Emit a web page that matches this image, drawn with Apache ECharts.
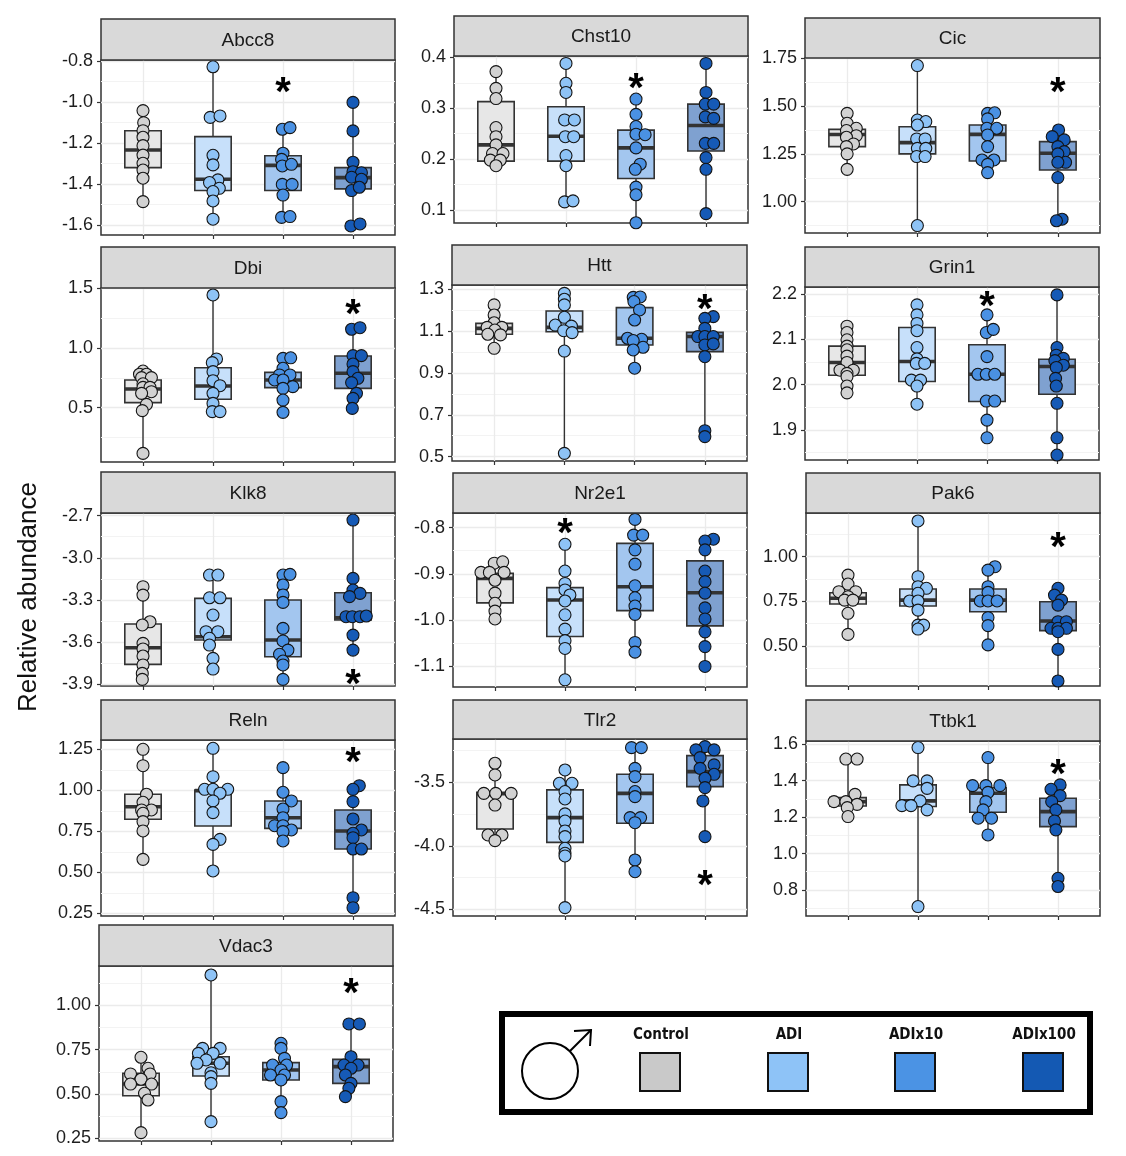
<!DOCTYPE html>
<html>
<head>
<meta charset="utf-8">
<script src="https://cdn.jsdelivr.net/npm/echarts@6/dist/echarts.min.js"></script>
<style>
html, body { margin: 0; padding: 0; background: #fff; }
#main { width: 1126px; height: 1156px; }
</style>
</head>
<body>
<div id="main"></div>
<script>
// groups and genes
var groups = ['Control', 'ADI', 'ADIx10', 'ADIx100'];
var genes = ['Abcc8', 'Chst10', 'Cic', 'Dbi', 'Htt', 'Grin1', 'Klk8', 'Nr2e1', 'Pak6', 'Reln', 'Tlr2', 'Ttbk1', 'Vdac3'];

// box stats per group: [min, q1, median, q3, max]
var abcc8Box = [[-1.486, -1.320, -1.234, -1.140, -1.042], [-1.572, -1.432, -1.377, -1.169, -0.828], [-1.563, -1.432, -1.309, -1.262, -1.125], [-1.605, -1.424, -1.369, -1.320, -1.002]];
var chst10Box = [[0.187, 0.196, 0.228, 0.313, 0.372], [0.116, 0.196, 0.245, 0.303, 0.388], [0.075, 0.162, 0.222, 0.257, 0.318], [0.093, 0.216, 0.266, 0.308, 0.388]];
var cicBox = [[1.169, 1.288, 1.351, 1.378, 1.462], [0.875, 1.250, 1.309, 1.392, 1.712], [1.152, 1.213, 1.352, 1.401, 1.465], [0.900, 1.166, 1.253, 1.314, 1.375]];
var dbiBox = [[0.117, 0.542, 0.657, 0.732, 0.807], [0.467, 0.570, 0.682, 0.835, 1.444], [0.461, 0.668, 0.732, 0.796, 0.918], [0.494, 0.662, 0.788, 0.933, 1.170]];
var httBox = [[1.017, 1.084, 1.112, 1.136, 1.224], [0.516, 1.096, 1.117, 1.195, 1.279], [0.922, 1.033, 1.065, 1.211, 1.262], [0.596, 1.001, 1.073, 1.093, 1.168]];
var grin1Box = [[1.982, 2.021, 2.049, 2.085, 2.129], [1.957, 2.007, 2.051, 2.126, 2.176], [1.883, 1.963, 2.023, 2.088, 2.154], [1.845, 1.979, 2.040, 2.056, 2.198]];
var klk8Box = [[-3.867, -3.760, -3.641, -3.472, -3.206], [-3.793, -3.586, -3.563, -3.289, -3.123], [-3.867, -3.705, -3.586, -3.301, -3.118], [-3.658, -3.444, -3.427, -3.249, -2.731]];
var nr2e1Box = [[-0.998, -0.963, -0.910, -0.899, -0.874], [-1.130, -1.036, -0.957, -0.930, -0.836], [-1.070, -0.980, -0.928, -0.834, -0.782], [-1.101, -1.013, -0.941, -0.872, -0.825]];
var pak6Box = [[0.565, 0.735, 0.767, 0.798, 0.897], [0.595, 0.724, 0.757, 0.819, 1.200], [0.506, 0.692, 0.757, 0.819, 0.944], [0.304, 0.586, 0.640, 0.748, 0.823]];
var relnBox = [[0.579, 0.823, 0.900, 0.976, 1.250], [0.508, 0.782, 0.998, 1.002, 1.256], [0.691, 0.768, 0.833, 0.935, 1.138], [0.284, 0.642, 0.752, 0.880, 1.028]];
var tlr2Box = [[-3.959, -3.868, -3.590, -3.579, -3.350], [-4.487, -3.973, -3.778, -3.560, -3.403], [-4.204, -3.823, -3.587, -3.437, -3.227], [-3.928, -3.534, -3.416, -3.290, -3.219]];
var ttbk1Box = [[1.203, 1.261, 1.285, 1.307, 1.519], [0.709, 1.258, 1.289, 1.377, 1.582], [1.102, 1.227, 1.331, 1.362, 1.527], [0.819, 1.148, 1.230, 1.304, 1.377]];
var vdac3Box = [[0.282, 0.490, 0.556, 0.617, 0.707], [0.344, 0.601, 0.673, 0.710, 1.171], [0.395, 0.579, 0.635, 0.677, 0.786], [0.485, 0.560, 0.654, 0.695, 0.895]];

// individual animals per group: [horizontal offset from group centre, value]
var abcc8Pts = [
  [[0, -1.042], [0.01, -1.101], [0, -1.140], [0, -1.172], [0, -1.213], [0, -1.259], [0, -1.299], [0, -1.332], [0, -1.372], [0, -1.486]],
  [[0, -0.828], [-0.04, -1.075], [0.10, -1.068], [0, -1.260], [0, -1.307], [0.07, -1.380], [-0.05, -1.393], [0.09, -1.421], [0, -1.437], [0, -1.483], [0, -1.572]],
  [[-0.01, -1.133], [0.10, -1.125], [0, -1.250], [-0.02, -1.280], [-0.01, -1.312], [0.12, -1.304], [-0.01, -1.402], [0.13, -1.402], [0, -1.454], [-0.02, -1.563], [0.10, -1.559]],
  [[0, -1.002], [0, -1.141], [0, -1.294], [0, -1.340], [0.12, -1.345], [-0.02, -1.367], [0.12, -1.377], [-0.02, -1.432], [0.09, -1.416], [-0.03, -1.605], [0.10, -1.595]]
];
var chst10Pts = [
  [[0, 0.372], [0, 0.339], [0, 0.319], [0, 0.262], [0, 0.244], [0, 0.228], [-0.05, 0.211], [0.10, 0.211], [-0.08, 0.198], [0.06, 0.198], [0, 0.187]],
  [[0, 0.388], [0, 0.349], [0, 0.331], [-0.02, 0.277], [0.12, 0.277], [-0.01, 0.244], [0.11, 0.244], [0, 0.207], [0, 0.187], [-0.02, 0.116], [0.10, 0.118]],
  [[0, 0.318], [0, 0.288], [0, 0.264], [0, 0.249], [0.13, 0.248], [0, 0.222], [0.06, 0.190], [-0.01, 0.180], [0, 0.145], [0, 0.130], [0, 0.075]],
  [[0, 0.388], [0, 0.331], [-0.01, 0.308], [0.11, 0.308], [-0.01, 0.283], [0.11, 0.280], [-0.01, 0.231], [0.11, 0.231], [0, 0.203], [0, 0.180], [0, 0.093]]
];
var cicPts = [
  [[0, 1.462], [0, 1.410], [0.13, 1.384], [-0.01, 1.372], [0.13, 1.345], [-0.01, 1.337], [0.09, 1.302], [-0.01, 1.288], [0, 1.250], [0, 1.169]],
  [[0, 1.712], [0, 1.427], [0.12, 1.419], [0, 1.401], [-0.01, 1.328], [0.11, 1.328], [0, 1.279], [0.12, 1.279], [-0.01, 1.236], [0.11, 1.236], [0, 0.875]],
  [[0, 1.462], [0.10, 1.465], [0, 1.433], [-0.01, 1.384], [0.13, 1.384], [0, 1.349], [0, 1.288], [-0.08, 1.218], [0.09, 1.218], [0, 1.195], [0, 1.152]],
  [[0.01, 1.375], [-0.08, 1.340], [0.09, 1.323], [0, 1.288], [0.09, 1.262], [0, 1.250], [0.11, 1.206], [0, 1.206], [0, 1.126], [0.06, 0.908], [-0.02, 0.900]]
];
var dbiPts = [
  [[0, 0.807], [-0.05, 0.780], [0.05, 0.780], [-0.02, 0.752], [0.12, 0.752], [0, 0.700], [0, 0.670], [0.10, 0.670], [0.12, 0.634], [-0.02, 0.620], [0.05, 0.528], [-0.01, 0.475], [0, 0.117]],
  [[0, 1.444], [0.05, 0.908], [-0.01, 0.877], [0, 0.802], [0, 0.726], [0.10, 0.684], [0, 0.620], [0, 0.536], [-0.01, 0.467], [0.10, 0.467]],
  [[0, 0.913], [0.11, 0.918], [0, 0.830], [-0.05, 0.774], [0.10, 0.774], [-0.12, 0.732], [0, 0.732], [0.14, 0.676], [0, 0.662], [0, 0.564], [0, 0.461]],
  [[-0.02, 1.157], [0.10, 1.170], [0, 0.936], [0.12, 0.936], [0, 0.866], [0, 0.802], [0.07, 0.746], [-0.02, 0.710], [0.05, 0.620], [0, 0.578], [-0.01, 0.494]]
];
var httPts = [
  [[0, 1.224], [0, 1.176], [0, 1.139], [-0.10, 1.117], [0.11, 1.117], [0.01, 1.104], [0.09, 1.081], [-0.09, 1.084], [0, 1.017]],
  [[0, 1.279], [0, 1.251], [0, 1.224], [0, 1.165], [-0.13, 1.128], [0.10, 1.123], [-0.01, 1.101], [0.11, 1.092], [0, 1.004], [0, 0.516]],
  [[-0.02, 1.260], [0.08, 1.262], [-0.01, 1.240], [0.07, 1.200], [0, 1.152], [-0.10, 1.065], [0.10, 1.060], [-0.02, 1.054], [0.12, 1.022], [-0.02, 1.009], [0, 0.922]],
  [[0.12, 1.168], [0, 1.160], [0, 1.112], [-0.10, 1.073], [0, 1.073], [0.12, 1.073], [0, 1.033], [0.12, 1.038], [0, 0.977], [0, 0.624], [0, 0.596]]
];
var grin1Pts = [
  [[0, 2.129], [0, 2.115], [0, 2.099], [0, 2.085], [0, 2.077], [0, 2.063], [0, 2.049], [-0.10, 2.032], [0.09, 2.032], [0, 2.025], [0, 2.018], [0, 1.997], [0, 1.982]],
  [[0, 2.176], [0, 2.154], [0, 2.135], [0, 2.119], [0, 2.082], [0, 2.057], [-0.01, 2.047], [0.11, 2.047], [-0.08, 2.010], [0.05, 2.010], [0, 1.997], [0, 1.957]],
  [[0, 2.154], [-0.01, 2.115], [0.09, 2.122], [0, 2.062], [-0.13, 2.023], [-0.01, 2.023], [0.11, 2.023], [-0.01, 1.964], [0.11, 1.964], [0, 1.922], [0, 1.883]],
  [[0, 2.198], [0, 2.082], [-0.01, 2.065], [0.09, 2.058], [-0.03, 2.053], [0.09, 2.043], [-0.01, 2.038], [-0.02, 2.014], [-0.01, 1.997], [0, 1.959], [0, 1.883], [0, 1.845]]
];
var klk8Pts = [
  [[0, -3.206], [0, -3.266], [0.10, -3.456], [-0.01, -3.479], [0, -3.610], [0, -3.650], [0, -3.700], [0, -3.764], [-0.01, -3.824], [-0.01, -3.867]],
  [[-0.05, -3.123], [0.07, -3.123], [-0.05, -3.285], [0.10, -3.285], [0, -3.408], [-0.10, -3.527], [0.07, -3.527], [-0.05, -3.574], [-0.05, -3.622], [0, -3.717], [0, -3.793]],
  [[0, -3.123], [0.10, -3.118], [0, -3.194], [0, -3.265], [0, -3.318], [0, -3.503], [0, -3.593], [0.07, -3.658], [-0.05, -3.688], [0, -3.736], [0, -3.764], [0, -3.867]],
  [[0, -2.731], [0, -3.147], [0, -3.230], [0.10, -3.254], [-0.05, -3.277], [-0.10, -3.420], [-0.01, -3.420], [0.10, -3.420], [0.19, -3.415], [0, -3.551], [0, -3.658]]
];
var nr2e1Pts = [
  [[-0.01, -0.877], [0.11, -0.874], [-0.20, -0.897], [-0.08, -0.897], [0.13, -0.897], [0, -0.914], [0, -0.942], [0, -0.964], [0, -0.981], [0, -0.998]],
  [[0, -0.836], [0, -0.894], [0, -0.921], [0, -0.935], [0.07, -0.946], [0, -0.959], [0, -0.989], [0, -1.020], [0, -1.045], [0, -1.062], [0, -1.130]],
  [[0, -0.782], [-0.02, -0.816], [0.11, -0.816], [0, -0.848], [0, -0.879], [0, -0.926], [0, -0.952], [0, -0.970], [0, -0.988], [0, -1.049], [0, -1.070]],
  [[0.12, -0.825], [0, -0.829], [0, -0.848], [0, -0.894], [0, -0.917], [0, -0.942], [0, -0.974], [0, -0.998], [0, -1.026], [0, -1.058], [0, -1.101]]
];
var pak6Pts = [
  [[0, 0.897], [0, 0.847], [-0.13, 0.804], [0.11, 0.804], [0, 0.776], [-0.05, 0.757], [0.07, 0.757], [0, 0.683], [0, 0.565]],
  [[0, 1.200], [0, 0.888], [0, 0.832], [0.12, 0.823], [0, 0.795], [-0.12, 0.752], [0, 0.752], [0, 0.701], [0, 0.617], [0.08, 0.617], [0, 0.595]],
  [[0.10, 0.944], [0, 0.925], [0, 0.832], [0, 0.800], [-0.11, 0.752], [0, 0.752], [0.13, 0.752], [0, 0.659], [0, 0.614], [0, 0.506]],
  [[0, 0.823], [-0.05, 0.785], [0.05, 0.757], [0, 0.729], [0, 0.636], [0.12, 0.636], [-0.10, 0.599], [0, 0.599], [0.12, 0.599], [0, 0.580], [0, 0.481], [0, 0.304]]
];
var relnPts = [
  [[0, 1.250], [0, 1.150], [0.05, 0.976], [0, 0.927], [0.12, 0.880], [-0.02, 0.880], [0, 0.860], [0, 0.809], [0, 0.752], [0, 0.579]],
  [[0, 1.256], [0, 1.083], [-0.12, 1.006], [0, 1.006], [0.21, 1.006], [0.10, 0.982], [0, 0.935], [0, 0.864], [0.10, 0.701], [0, 0.670], [0, 0.508]],
  [[0, 1.138], [0, 0.988], [0.12, 0.935], [0, 0.886], [0, 0.833], [-0.12, 0.784], [0, 0.784], [0.12, 0.758], [0, 0.748], [0, 0.691]],
  [[0.09, 1.028], [0, 1.006], [0, 0.931], [0, 0.825], [0.12, 0.758], [0, 0.738], [0, 0.711], [0, 0.642], [0.12, 0.642], [0, 0.345], [0, 0.284]]
];
var tlr2Pts = [
  [[0, -3.350], [0, -3.442], [-0.16, -3.587], [0.01, -3.587], [0.23, -3.587], [0, -3.679], [-0.10, -3.915], [0.10, -3.915], [0, -3.959]],
  [[0, -3.403], [-0.08, -3.508], [0.10, -3.508], [0, -3.573], [0, -3.631], [0, -3.749], [0, -3.805], [0, -3.883], [0, -3.928], [0, -4.020], [0, -4.059], [0, -4.080], [0, -4.487]],
  [[-0.05, -3.227], [0.09, -3.227], [0, -3.390], [0, -3.455], [0, -3.573], [0, -3.613], [-0.07, -3.778], [0.08, -3.778], [0, -3.818], [0, -4.112], [0, -4.204]],
  [[0, -3.219], [-0.13, -3.245], [0.13, -3.245], [-0.07, -3.306], [0.13, -3.363], [-0.07, -3.390], [0.13, -3.437], [0, -3.468], [0, -3.542], [-0.03, -3.647], [0, -3.928]]
];
var ttbk1Pts = [
  [[-0.03, 1.519], [0.13, 1.519], [0.10, 1.325], [-0.20, 1.285], [-0.03, 1.285], [0.13, 1.270], [-0.01, 1.252], [0, 1.203]],
  [[0, 1.582], [-0.07, 1.399], [0.13, 1.399], [0.13, 1.358], [0.03, 1.289], [-0.23, 1.263], [-0.10, 1.263], [0.13, 1.240], [0, 0.709]],
  [[0, 1.527], [-0.22, 1.373], [-0.03, 1.373], [0.17, 1.373], [0, 1.336], [-0.03, 1.285], [-0.07, 1.240], [-0.14, 1.194], [0.05, 1.194], [0, 1.102]],
  [[0.03, 1.377], [-0.10, 1.353], [0.03, 1.318], [-0.09, 1.285], [-0.03, 1.240], [-0.05, 1.179], [-0.03, 1.130], [0, 0.864], [0, 0.819]]
];
var vdac3Pts = [
  [[0, 0.707], [0.10, 0.645], [-0.15, 0.613], [0.13, 0.613], [0, 0.583], [-0.15, 0.556], [0.15, 0.556], [0.05, 0.504], [0.10, 0.466], [0, 0.282]],
  [[0, 1.171], [-0.12, 0.757], [0.13, 0.757], [-0.18, 0.729], [0.03, 0.729], [-0.07, 0.692], [-0.20, 0.673], [0.13, 0.673], [0, 0.620], [0, 0.598], [0, 0.560], [0, 0.344]],
  [[0, 0.786], [0, 0.757], [0.05, 0.701], [-0.12, 0.663], [0.08, 0.663], [0, 0.635], [-0.15, 0.607], [0.05, 0.607], [0, 0.579], [0, 0.457], [0, 0.395]],
  [[-0.03, 0.895], [0.12, 0.895], [0, 0.710], [-0.10, 0.663], [0.10, 0.663], [0, 0.645], [-0.08, 0.607], [0, 0.560], [-0.03, 0.532], [-0.08, 0.485]]
];

// significance marks: group index and height
var starGroup = [2, 2, 3, 3, 3, 2, 3, 1, 3, 3, 3, 3, 3];
var starValue = [-0.915, 0.354, 1.613, 1.349, 1.239, 2.191, -3.842, -0.794, 1.096, 1.221, -4.248, 1.479, 1.115];

// y axes: tick labels, decimals and visible range
var yTicks = [
  [-1.6, -1.4, -1.2, -1.0, -0.8], [0.1, 0.2, 0.3, 0.4], [1.00, 1.25, 1.50, 1.75], [0.5, 1.0, 1.5],
  [0.5, 0.7, 0.9, 1.1, 1.3], [1.9, 2.0, 2.1, 2.2], [-3.9, -3.6, -3.3, -3.0, -2.7], [-1.1, -1.0, -0.9, -0.8],
  [0.50, 0.75, 1.00], [0.25, 0.50, 0.75, 1.00, 1.25], [-4.5, -4.0, -3.5], [0.8, 1.0, 1.2, 1.4, 1.6], [0.25, 0.50, 0.75, 1.00]
];
var yDecimals = [1, 1, 2, 1, 1, 1, 1, 1, 2, 2, 1, 1, 2];
var yMin = [-1.649, 0.0745, 0.836, 0.045, 0.4795, 1.834, -3.914, -1.1456, 0.276, 0.2335, -4.553, 0.657, 0.2348];
var yMax = [-0.795, 0.4026, 1.7516, 1.5025, 1.319, 2.2154, -2.6807, -0.7681, 1.2447, 1.3067, -3.159, 1.618, 1.2217];

var geneBoxes = [abcc8Box, chst10Box, cicBox, dbiBox, httBox, grin1Box, klk8Box, nr2e1Box, pak6Box, relnBox, tlr2Box, ttbk1Box, vdac3Box];
var genePts = [abcc8Pts, chst10Pts, cicPts, dbiPts, httPts, grin1Pts, klk8Pts, nr2e1Pts, pak6Pts, relnPts, tlr2Pts, ttbk1Pts, vdac3Pts];

// panel layout (px)
var panelLeft = [101, 454, 805, 101, 452, 805, 101, 453, 806, 101, 453, 806, 99];
var panelRight = [395, 748, 1100, 395, 747, 1099, 395, 747, 1100, 395, 747, 1100, 393];
var panelTop = [60, 56, 58, 288, 285, 287, 513, 513, 513, 740, 739, 741, 966];
var panelBottom = [235, 223, 233, 462, 461, 460, 686, 687, 686, 916, 916, 916, 1141];
var stripTop = [19, 16, 18, 247, 245, 247, 472, 473, 473, 700, 700, 700, 925];

var pointColors = ['#D2D2D2', '#8EC3F6', '#4A91E3', '#165AB6'];
var boxFill = ['#E7E7E7', '#C7E0FA', '#A3C6EF', '#7FA1D0'];
var legendFill = ['#C9C9C9', '#8EC3F7', '#4B93E4', '#1459B3'];
var legendCentre = [660, 788, 915, 1043];
var boxWidth = 0.52;
var font = "'Liberation Sans', Arial, sans-serif";
var starSize = 40;

function minorTicks(t, lo, hi) {
  var step = t[1] - t[0], out = [];
  for (var v = t[0] - step / 2; v <= hi + 1e-9; v += step) {
    if (v >= lo && v <= hi) out.push(+v.toFixed(4));
  }
  return out;
}

function renderBox(params, api) {
  var x = api.value(0), g = api.value(6);
  var lo = api.coord([x, api.value(1)]);
  var q1 = api.coord([x, api.value(2)]);
  var med = api.coord([x, api.value(3)]);
  var q3 = api.coord([x, api.value(4)]);
  var hi = api.coord([x, api.value(5)]);
  var hw = api.size([boxWidth, 0])[0] / 2;
  var ln = { stroke: '#333', lineWidth: 1.4 };
  return {
    type: 'group',
    children: [
      { type: 'line', shape: { x1: lo[0], y1: lo[1], x2: q1[0], y2: q1[1] }, style: ln },
      { type: 'line', shape: { x1: q3[0], y1: q3[1], x2: hi[0], y2: hi[1] }, style: ln },
      { type: 'rect', shape: { x: q3[0] - hw, y: q3[1], width: 2 * hw, height: q1[1] - q3[1] },
        style: { fill: boxFill[g], stroke: '#333', lineWidth: 1.6 } },
      { type: 'line', shape: { x1: med[0] - hw, y1: med[1], x2: med[0] + hw, y2: med[1] },
        style: { stroke: '#333', lineWidth: 3.6 } }
    ]
  };
}

function renderStar(params, api) {
  var c = api.coord([api.value(0), api.value(1)]);
  return {
    type: 'text', x: c[0], y: c[1] + starSize * 0.24,
    style: { text: '*', fontSize: starSize, fontWeight: 'bold', fontFamily: font, fill: '#000',
      align: 'center', verticalAlign: 'middle' }
  };
}

var option = { animation: false, grid: [], xAxis: [], yAxis: [], series: [], graphic: [] };

for (var p = 0; p < genes.length; p++) {
  var L = panelLeft[p], R = panelRight[p], T = panelTop[p], B = panelBottom[p];
  var dec = yDecimals[p];
  option.grid.push({
    left: L, top: T, width: R - L, height: B - T, show: true,
    backgroundColor: '#fff', borderColor: '#333', borderWidth: 1.5,
    containLabel: false, outerBoundsMode: 'none'
  });
  option.xAxis.push({
    type: 'value', gridIndex: p, min: 0.4, max: 4.6,
    axisLine: { show: false },
    axisLabel: { show: false },
    axisTick: { show: true, length: 4, customValues: [1, 2, 3, 4], lineStyle: { color: '#333', width: 1.2 } },
    splitLine: { show: true, lineStyle: { color: '#EBEBEB', width: 1.3 } }
  });
  option.yAxis.push({
    type: 'value', gridIndex: p, min: yMin[p], max: yMax[p], position: 'left',
    axisLine: { show: false },
    axisTick: { show: true, length: 4, customValues: yTicks[p], lineStyle: { color: '#333', width: 1.2 } },
    axisLabel: {
      customValues: yTicks[p], margin: 8, fontSize: 18, color: '#1E1E1E', fontFamily: font,
      formatter: (function (d) { return function (v) { return v.toFixed(d); }; })(dec)
    },
    splitLine: { show: true, lineStyle: { color: '#EBEBEB', width: 1.3 } }
  });
  option.yAxis.push({
    type: 'value', gridIndex: p, min: yMin[p], max: yMax[p], position: 'right',
    axisLine: { show: false },
    axisTick: { show: false, customValues: minorTicks(yTicks[p], yMin[p], yMax[p]) },
    axisLabel: { show: false },
    splitLine: { show: true, lineStyle: { color: '#F3F3F3', width: 1 } }
  });

  option.series.push({
    type: 'custom', xAxisIndex: p, yAxisIndex: 2 * p, z: 2, silent: true,
    encode: { x: 0, y: [1, 2, 3, 4, 5] },
    data: geneBoxes[p].map(function (b, g) { return [g + 1, b[0], b[1], b[2], b[3], b[4], g]; }),
    renderItem: renderBox
  });
  for (var g = 0; g < groups.length; g++) {
    option.series.push({
      type: 'scatter', name: groups[g], xAxisIndex: p, yAxisIndex: 2 * p, z: 3, silent: true,
      symbolSize: 12,
      itemStyle: { color: pointColors[g], borderColor: '#141414', borderWidth: 1.1, opacity: 1 },
      data: genePts[p][g].map((function (gi) { return function (d) { return [gi + 1 + d[0], d[1]]; }; })(g))
    });
  }
  option.series.push({
    type: 'custom', xAxisIndex: p, yAxisIndex: 2 * p, z: 4, silent: true,
    data: [[starGroup[p] + 1, starValue[p]]],
    renderItem: renderStar
  });

  // facet strip
  option.graphic.push({
    type: 'rect', z: 10, silent: true,
    shape: { x: L, y: stripTop[p], width: R - L, height: T - stripTop[p] },
    style: { fill: '#D9D9D9', stroke: '#333', lineWidth: 1.5 }
  });
  option.graphic.push({
    type: 'text', z: 11, silent: true, x: (L + R) / 2, y: (stripTop[p] + T) / 2 + 1,
    style: { text: genes[p], fontSize: 19, fontFamily: font, fill: '#1A1A1A', align: 'center', verticalAlign: 'middle' }
  });
}

// shared y title
option.graphic.push({
  type: 'text', silent: true, x: 29, y: 597, rotation: Math.PI / 2,
  style: { text: 'Relative abundance', fontSize: 26, fontFamily: font, fill: '#111', align: 'center', verticalAlign: 'middle' }
});

// legend box
option.graphic.push({
  type: 'rect', silent: true, z: 5,
  shape: { x: 502, y: 1014, width: 588, height: 98 },
  style: { fill: '#fff', stroke: '#000', lineWidth: 6 }
});
option.graphic.push({
  type: 'circle', silent: true, z: 6,
  shape: { cx: 550, cy: 1071, r: 28 },
  style: { fill: 'none', stroke: '#000', lineWidth: 2 }
});
option.graphic.push({
  type: 'polyline', silent: true, z: 6,
  shape: { points: [[570, 1051], [591, 1030]] },
  style: { fill: 'none', stroke: '#000', lineWidth: 2 }
});
option.graphic.push({
  type: 'polyline', silent: true, z: 6,
  shape: { points: [[574, 1031], [591, 1030], [590, 1046]] },
  style: { fill: 'none', stroke: '#000', lineWidth: 2 }
});
for (var k = 0; k < groups.length; k++) {
  option.graphic.push({
    type: 'rect', silent: true, z: 6,
    shape: { x: legendCentre[k] - 20, y: 1053, width: 40, height: 38 },
    style: { fill: legendFill[k], stroke: '#111', lineWidth: 2 }
  });
  option.graphic.push({
    type: 'text', silent: true, z: 6, x: legendCentre[k] + 1, y: 1035,
    style: { text: groups[k], fontSize: 15, fontWeight: 'bold',
      fontFamily: "'Liberation Sans Narrow', 'DejaVu Sans Condensed', sans-serif",
      fill: '#111', align: 'center', verticalAlign: 'middle' }
  });
}

var chart = echarts.init(document.getElementById('main'));
chart.setOption(option);
</script>
</body>
</html>
